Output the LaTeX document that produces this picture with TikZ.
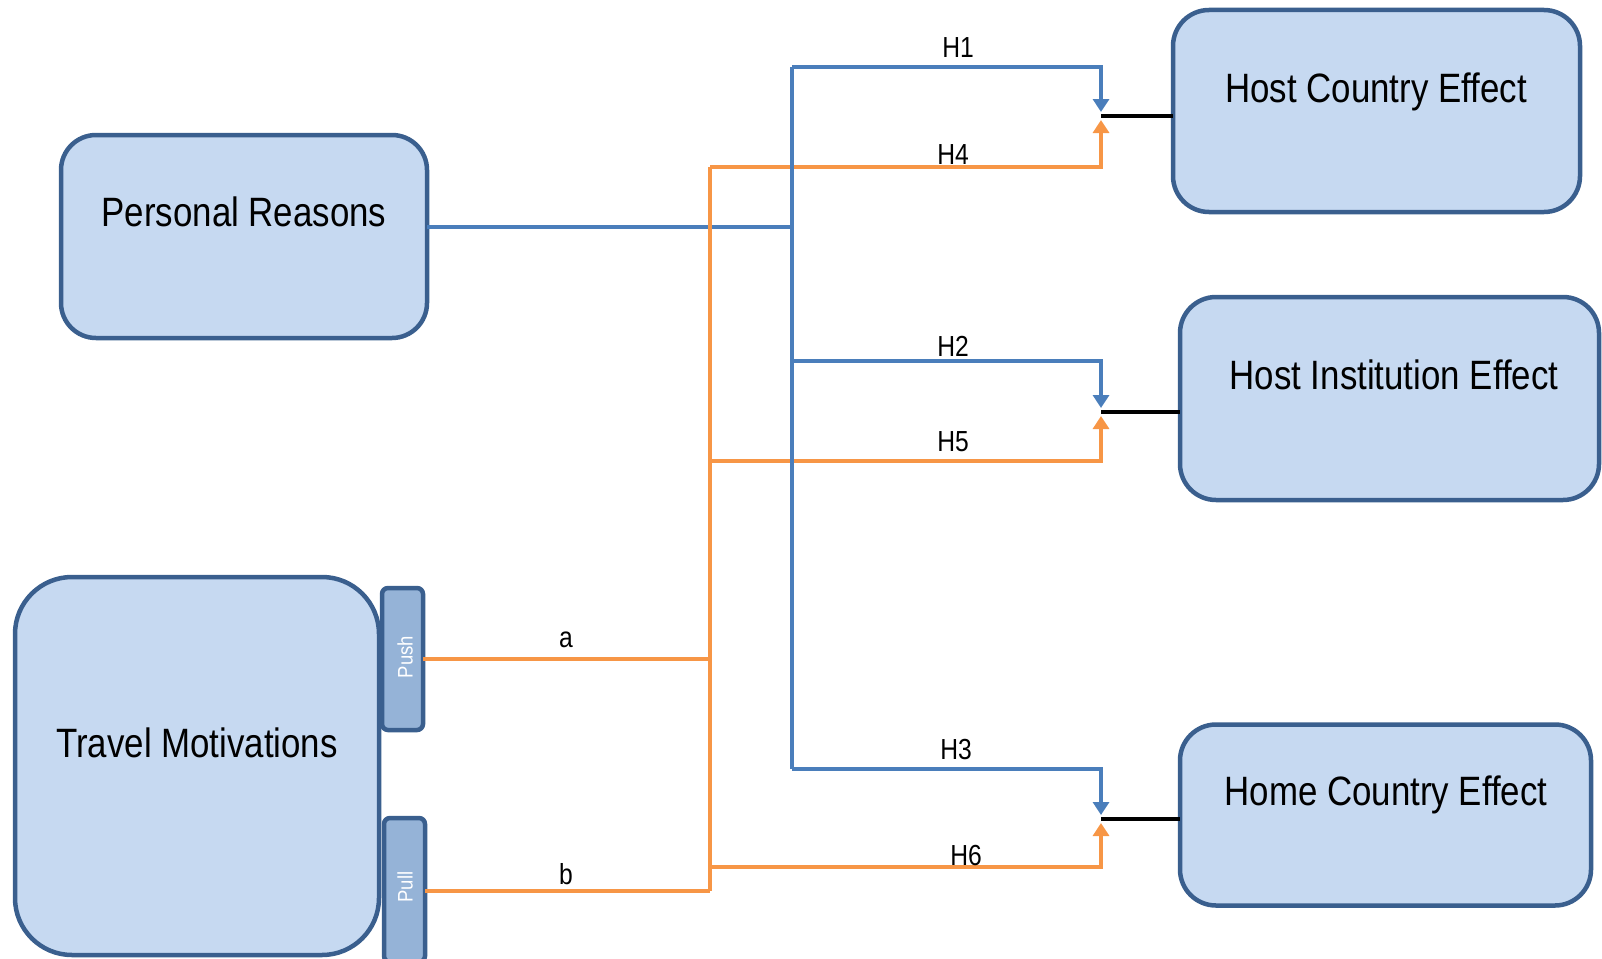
\documentclass[tikz,border=0pt]{standalone}
\usepackage{fontspec}
\usetikzlibrary{arrows.meta}
\newfontfamily\boxfont[FakeStretch=0.85]{Liberation Sans}
\newfontfamily\tabfont[FakeStretch=0.88]{Liberation Sans}
\definecolor{boxfill}{HTML}{C6D9F1}
\definecolor{boxline}{HTML}{3A5F8E}
\definecolor{tabfill}{HTML}{95B3D7}
\definecolor{blueln}{HTML}{4A7EBB}
\definecolor{orangeln}{HTML}{F79646}
\tikzset{
  bigbox/.style={draw=boxline, fill=boxfill, line width=4.5pt, rectangle, inner sep=0pt, outer sep=0pt},
  tabbox/.style={draw=boxline, fill=tabfill, line width=4.5pt, rectangle, rounded corners=6pt, inner sep=0pt, outer sep=0pt},
  boxtxt/.style={font=\boxfont\fontsize{41}{48}\selectfont, inner sep=0pt, anchor=base},
  lbl/.style={font=\boxfont\fontsize{29}{34}\selectfont, inner sep=0pt, anchor=base},
  tabtxt/.style={font=\tabfont\fontsize{21}{25}\selectfont, text=white, inner sep=0pt, rotate=90},
  bline/.style={draw=blueln, line width=4pt, miter limit=10},
  oline/.style={draw=orangeln, line width=4pt, miter limit=10},
  kline/.style={draw=black, line width=4.5pt},
  tip/.style={-{Triangle[length=13pt,width=16pt]}}
}
\begin{document}
\begin{tikzpicture}[x=1pt,y=-1pt]
\useasboundingbox (0,0) rectangle (1602,958);

% boxes
\node[bigbox, rounded corners=35pt, minimum width=366pt, minimum height=203pt] (pr) at (244,236.5) {};
\node[bigbox, rounded corners=57pt, minimum width=364pt, minimum height=378pt] (tm) at (197,766) {};
\node[tabbox, minimum width=41pt, minimum height=142pt] (push) at (402.5,659) {};
\node[tabbox, minimum width=41pt, minimum height=144pt] (pull) at (404.5,890) {};
\node[bigbox, rounded corners=36pt, minimum width=407pt, minimum height=202pt] (hce) at (1376.5,111) {};
\node[bigbox, rounded corners=36pt, minimum width=419pt, minimum height=203pt] (hie) at (1389.5,398.5) {};
\node[bigbox, rounded corners=36pt, minimum width=411pt, minimum height=181pt] (hom) at (1385.5,815) {};

% box texts
\node[boxtxt] (prt) at (244,226) {Personal Reasons};
\node[boxtxt] (tmt) at (197,757) {Travel Motivations};
\node[boxtxt] (hcet) at (1376,102) {Host Country Effect};
\node[boxtxt] (hiet) at (1394,389) {Host Institution Effect};
\node[boxtxt] (homt) at (1386,805) {Home Country Effect};
\node[tabtxt] (pusht) at (405,657) {Push};
\node[tabtxt] (pullt) at (405,887) {Pull};

% junction coordinates
\coordinate (bj) at (792,227);
\coordinate (btop) at (792,67);
\coordinate (bmid) at (792,361);
\coordinate (bbot) at (792,769);
\coordinate (otop) at (710,167);
\coordinate (omid) at (710,461);
\coordinate (obot) at (710,867);
\coordinate (opush) at (710,659);
\coordinate (opull) at (710,891);
\coordinate (j1) at (1101,116);
\coordinate (j2) at (1101,412);
\coordinate (j3) at (1101,819);
\coordinate (t1b) at (1101,112);
\coordinate (t1o) at (1101,120);
\coordinate (t2b) at (1101,408);
\coordinate (t2o) at (1101,416);
\coordinate (t3b) at (1101,815);
\coordinate (t3o) at (1101,823);

% personal reasons line
\draw[bline] (pr.east |- bj) -- (bj);

% orange lines
\draw[oline] (push.east) -- (opush);
\draw[oline] (pull.east |- opull) -- (opull);
\draw[oline] (otop) -- (opull);
\draw[oline, tip] (otop) -| (t1o);
\draw[oline, tip] (omid) -| (t2o);
\draw[oline, tip] (obot) -| (t3o);

% blue lines
\draw[bline] (btop) -- (bbot);
\draw[bline, tip] (btop) -| (t1b);
\draw[bline, tip] (bmid) -| (t2b);
\draw[bline, tip] (bbot) -| (t3b);

% black links
\draw[kline] (j1) -- (hce.west |- j1);
\draw[kline] (j2) -- (hie.west |- j2);
\draw[kline] (j3) -- (hom.west |- j3);

% labels
\node[lbl] (h1) at (958,58) {H1};
\node[lbl] (h4) at (953,164) {H4};
\node[lbl] (h2) at (953,356) {H2};
\node[lbl] (h5) at (953,451) {H5};
\node[lbl] (h3) at (956,759) {H3};
\node[lbl] (h6) at (966,865) {H6};
\node[lbl] (la) at (566,647) {a};
\node[lbl] (lb) at (566,884) {b};
\end{tikzpicture}
\end{document}
